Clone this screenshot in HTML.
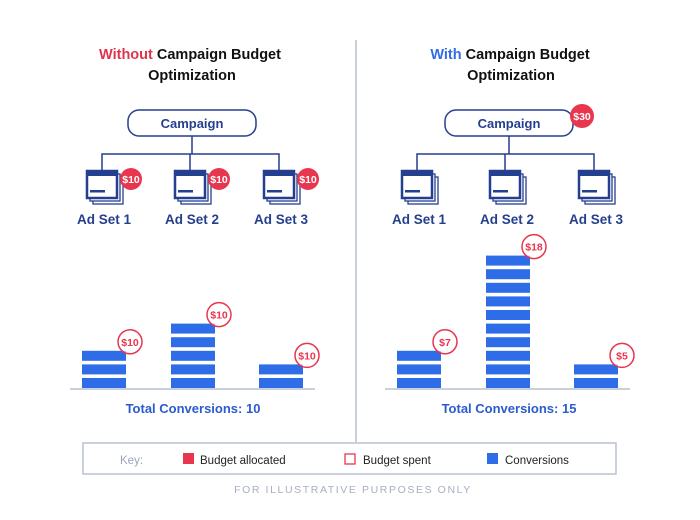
<!DOCTYPE html>
<html><head><meta charset="utf-8"><style>
body{margin:0;background:#fff;}
svg{display:block;font-family:"Liberation Sans",Arial,sans-serif;}
</style></head><body>
<svg id="c" width="700" height="520" viewBox="0 0 700 520">
<rect width="700" height="520" fill="#fff"/>
<line x1="356" y1="40" x2="356" y2="442" stroke="#b9bfd0" stroke-width="1.5"/>
<g font-weight="bold" font-size="14.5" text-anchor="middle" fill="#111">
<text x="190" y="59"><tspan fill="#e0334d">Without</tspan> Campaign Budget</text>
<text x="192" y="80">Optimization</text>
<text x="510" y="59"><tspan fill="#2f6de8">With</tspan> Campaign Budget</text>
<text x="511" y="80">Optimization</text>
</g>
<g id="trees"></g>
<g id="bars"></g>
<g font-weight="bold" font-size="13" fill="#2a5bd0" text-anchor="middle">
<text x="193" y="413">Total Conversions: 10</text>
<text x="509" y="413">Total Conversions: 15</text>
</g>
<g>
<rect x="83" y="443" width="533" height="31" fill="#fff" stroke="#b9c0d4" stroke-width="1.5"/>
<text x="120" y="464" font-size="11.5" fill="#9aa4bb">Key:</text>
<rect x="183" y="453" width="11" height="11" fill="#e8364f"/>
<text x="200" y="464" font-size="11.5" fill="#222">Budget allocated</text>
<rect x="345" y="454" width="10" height="10" fill="#fff" stroke="#e8364f" stroke-width="1.3"/>
<text x="363" y="464" font-size="11.5" fill="#222">Budget spent</text>
<rect x="487" y="453" width="11" height="11" fill="#2f6de8"/>
<text x="505" y="464" font-size="11.5" fill="#222">Conversions</text>
</g>
<text x="353" y="493" text-anchor="middle" font-size="10.5" letter-spacing="1.6" fill="#a7aec2">FOR ILLUSTRATIVE PURPOSES ONLY</text>
</svg>
<script>
const adSets = ["Ad Set 1","Ad Set 2","Ad Set 3"];
const leftConversions = [3,5,2];
const rightConversions = [3,10,2];
const leftSpent = ["$10","$10","$10"];
const rightSpent = ["$7","$18","$5"];
const leftAllocated = ["$10","$10","$10"];
const rightAllocated = ["$30"];

const NS="http://www.w3.org/2000/svg";
function mk(tag,attrs,parent){const e=document.createElementNS(NS,tag);for(const k in attrs)e.setAttribute(k,attrs[k]);parent.appendChild(e);return e;}
const BLUE="#2f6de8",RED="#e8364f",NAVY="#253f8f";
const baseY=388, step=13.6, blockH=10, barW=44;
function yScale(n){return baseY-n*step;}

function drawBars(g,xs,conv,spent,x0,x1,prefix){
  const bl=mk('line',{x1:x0,y1:baseY+1,x2:x1,y2:baseY+1,stroke:"#b9bfd0","stroke-width":1.5},g);
  
  
  conv.forEach((n,i)=>{
    for(let k=0;k<n;k++){
      const r=mk('rect',{x:xs[i],y:yScale(k+1)+(step-blockH),width:barW,height:blockH,fill:BLUE},g);
      
      
    }
    const cx=xs[i]+barW+4, cy=yScale(n)+(step-blockH)-9;
    const c=mk('circle',{cx:cx,cy:cy,r:12,fill:"rgba(255,255,255,0.6)",stroke:RED,"stroke-width":1.5},g);
    
    
    const t=mk('text',{x:cx,y:cy+4,"text-anchor":"middle","font-size":10.5,"font-weight":"bold",fill:RED},g);
    t.textContent=spent[i];
    
    
  });
}
const bars=document.getElementById('bars');
drawBars(bars,[82,171,259],leftConversions,leftSpent,70,315,'left');
drawBars(bars,[397,486,574],rightConversions,rightSpent,385,630,'right');

function icon(g,x,y,prefix,i){
  const ic=mk('g',{},g);
  
  
  mk('rect',{x:x+6,y:y+6,width:30,height:27,fill:"#fff",stroke:NAVY,"stroke-width":1.3},ic);
  mk('rect',{x:x+3,y:y+3,width:30,height:27,fill:"#fff",stroke:NAVY,"stroke-width":1.3},ic);
  mk('rect',{x:x,y:y,width:30,height:27,fill:"#fff",stroke:NAVY,"stroke-width":2.5},ic);
  mk('rect',{x:x,y:y,width:30,height:5,fill:NAVY},ic);
  mk('rect',{x:x+3,y:y+19,width:15,height:2.5,fill:NAVY},ic);
}
function tree(g,cx,iconXs,prefix,alloc,campAlloc){
  const box=mk('rect',{x:cx-64,y:110,width:128,height:26,rx:11,fill:"#fff",stroke:NAVY,"stroke-width":1.5},g);
  
  
  const t=mk('text',{x:cx,y:128,"text-anchor":"middle","font-size":13,"font-weight":"bold",fill:NAVY},g);
  t.textContent="Campaign";
  
  
  const conn=mk('path',{d:`M${cx} 136V154M${iconXs[0]+15} 172V154H${iconXs[2]+15}V172M${iconXs[1]+15} 154V172`,fill:"none",stroke:NAVY,"stroke-width":1.5},g);
  
  
  iconXs.forEach((x,i)=>{
    icon(g,x,171,prefix,i);
    const l=mk('text',{x:x+17,y:224,"text-anchor":"middle","font-size":13.5,"font-weight":"bold",fill:NAVY},g);
    l.textContent=adSets[i];
    
    
    if(alloc){
      const c=mk('circle',{cx:x+44,cy:179,r:11,fill:RED},g);
      
      
      const ct=mk('text',{x:x+44,y:183,"text-anchor":"middle","font-size":10.5,"font-weight":"bold",fill:"#fff"},g);
      ct.textContent=alloc[i];
      
      
    }
  });
  if(campAlloc){
    const c=mk('circle',{cx:cx+73,cy:116,r:12,fill:RED},g);
    
    
    const ct=mk('text',{x:cx+73,y:120,"text-anchor":"middle","font-size":10.5,"font-weight":"bold",fill:"#fff"},g);
    ct.textContent=campAlloc[0];
    
    
  }
}
const trees=document.getElementById('trees');
tree(trees,192,[87,175,264],'left',leftAllocated,null);
tree(trees,509,[402,490,579],'right',null,rightAllocated);
</script>
</body></html>
